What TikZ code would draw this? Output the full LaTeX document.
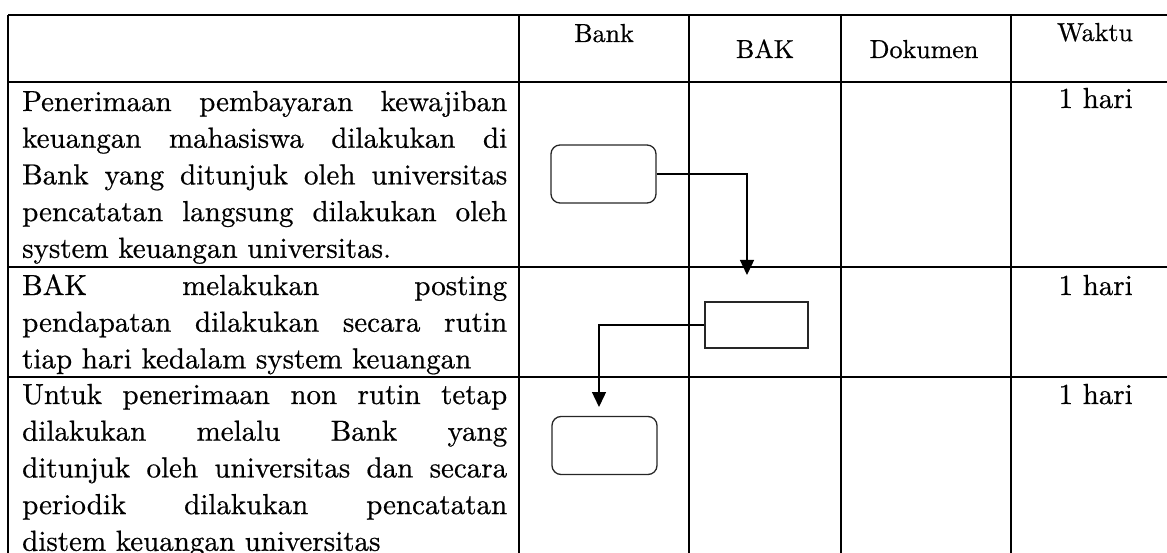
\documentclass[tikz,border=0pt]{standalone}
\usepackage{fontspec}
\setmainfont{lmroman10-regular.otf}[FakeBold=0.6]
\usetikzlibrary{arrows.meta}
\tolerance=10000
\hbadness=10000
\hyphenpenalty=10000
\setlength\parindent{0pt}
\tikzset{
  grid/.style={line width=2pt, black},
  body/.style={anchor=base west, inner sep=0pt, text width=485pt, align=justify,
    font=\fontsize{29}{36.7}\selectfont},
  head/.style={anchor=base, inner sep=0pt, font=\fontsize{26}{30}\selectfont},
  waktu/.style={anchor=base east, inner sep=0pt, font=\fontsize{29}{34}\selectfont},
  rbox/.style={draw=black!85, line width=1.3pt, rounded corners=9pt, inner sep=0pt,
    minimum width=105pt, minimum height=58pt},
  sbox/.style={draw=black!85, line width=1.3pt, inner sep=0pt,
    minimum width=103pt, minimum height=46pt},
  flow/.style={line width=1.4pt, black, -{Triangle[width=14pt,length=15pt]}}
}
\begin{document}
\begin{tikzpicture}[x=1pt, y=-1pt]
\useasboundingbox (0,0) rectangle (1167,553);
\clip (0,0) rectangle (1167,553);
% table grid
\draw[grid] (8,15) -- (1167,15);
\draw[grid] (8,82) -- (1167,82);
\draw[grid] (8,267) -- (1167,267);
\draw[grid] (8,377) -- (1167,377);
\draw[grid] (8,15) -- (8,553);
\draw[grid] (519,15) -- (519,553);
\draw[grid] (689,15) -- (689,553);
\draw[grid] (841,15) -- (841,553);
\draw[grid] (1011,15) -- (1011,553);
% headers
\node[head] (hbank) at (604,42) {Bank};
\node[head] (hbak) at (765,58) {BAK};
\node[head] (hdok) at (924,58) {Dokumen};
\node[head] (hwaktu) at (1095,41) {Waktu};
% body text
\node[body] (t1) at (22,111) {Penerimaan pembayaran kewajiban\linebreak
keuangan mahasiswa dilakukan di\linebreak
Bank yang ditunjuk oleh universitas\linebreak
pencatatan langsung dilakukan oleh\linebreak
system keuangan universitas.};
\node[body] (t2) at (22,295) {BAK melakukan posting\linebreak
pendapatan dilakukan secara rutin\linebreak
tiap hari kedalam system keuangan};
\node[body] (t3) at (22,404) {Untuk penerimaan non rutin tetap\linebreak
dilakukan melalu Bank yang\linebreak
ditunjuk oleh universitas dan secara\linebreak
periodik dilakukan pencatatan\linebreak
distem keuangan universitas};
% waktu
\node[waktu] (w1) at (1133,108) {1 hari};
\node[waktu] (w2) at (1133,295) {1 hari};
\node[waktu] (w3) at (1133,404) {1 hari};
% flow boxes
\node[rbox] (b1) at (603.5,174) {};
\node[sbox] (b2) at (756.5,325) {};
\node[rbox] (b3) at (604.5,445.5) {};
\coordinate (e1) at (747,275);
\coordinate (e2) at (599,407);
\draw[flow] (b1.east) -| (e1);
\draw[flow] (b2.west) -| (e2);
\end{tikzpicture}
\end{document}
